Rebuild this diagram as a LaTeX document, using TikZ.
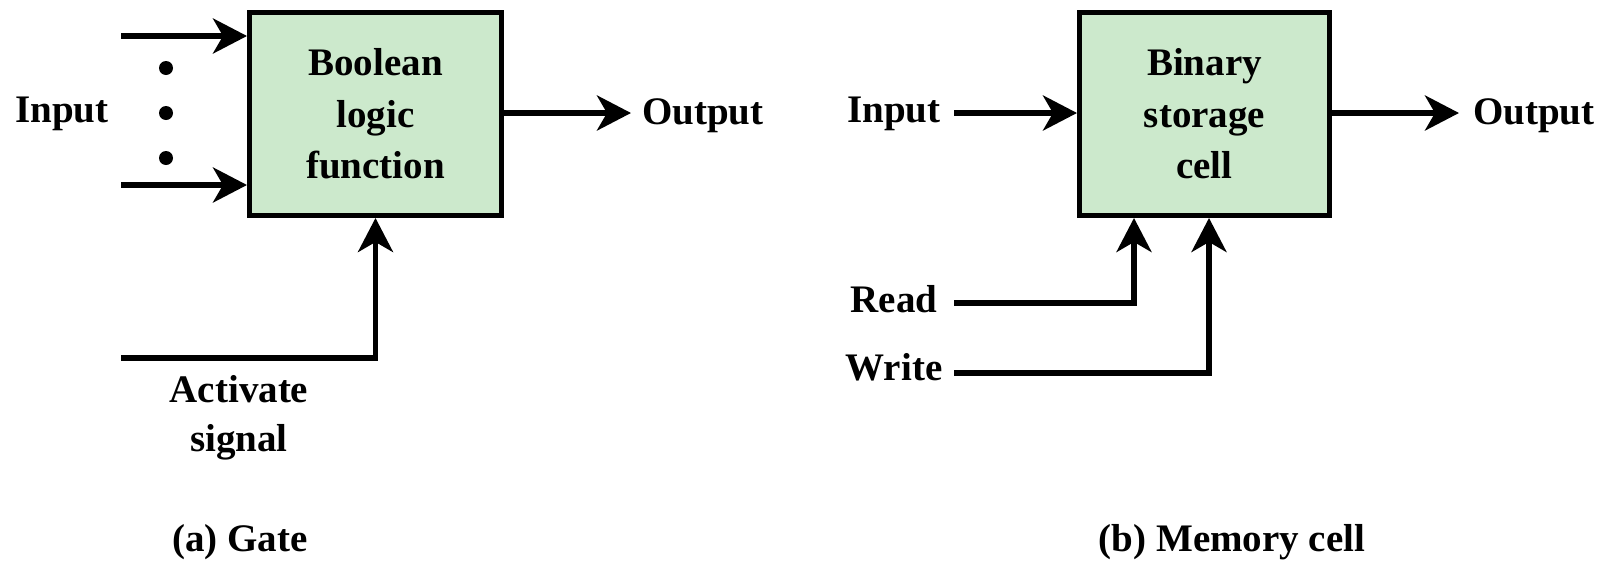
\documentclass[tikz,border=0pt]{standalone}
\usepackage{fontspec}
\setmainfont{Liberation Serif}
\usetikzlibrary{arrows.meta}
\definecolor{boxgreen}{RGB}{204,233,204}
\begin{document}
\begin{tikzpicture}[x=1pt,y=-1pt,
  box/.style={draw=black, line width=5pt, fill=boxgreen, inner sep=0pt, align=center,
    font=\fontsize{39}{51.5}\selectfont\bfseries},
  lbl/.style={inner sep=0pt, font=\fontsize{39}{50}\selectfont\bfseries},
  arr/.style={line width=5.5pt, -{Stealth[length=34pt,width=35pt,inset=10pt]}},
  dotc/.style={circle, fill=black, inner sep=0pt, minimum size=14pt}
]
\useasboundingbox (0,0) rectangle (1612,563);
% ---- (a) Gate ----
\node[box, minimum width=252pt, minimum height=203pt] (g) at (375.5,114)
  {Boolean\\logic\\function};
\coordinate (i1) at (121,36);
\coordinate (i2) at (121,185);
\draw[arr] (i1) -- (i1 -| g.west);
\draw[arr] (i2) -- (i2 -| g.west);
\node[dotc] (d1) at (166,68) {};
\node[dotc] (d2) at (166,113) {};
\node[dotc] (d3) at (166,158) {};
\node[lbl, anchor=base] (inA) at (62,122) {Input};
\coordinate (oA) at (631,113);
\draw[arr] (g.east |- oA) -- (oA);
\node[lbl, anchor=base west] (outA) at (642,124) {Output};
\coordinate (act) at (121,358);
\draw[arr] (act) -| (g.south);
\node[lbl, anchor=base] (actl) at (239,402) {Activate};
\node[lbl, anchor=base] (sigl) at (239,451) {signal};
\node[lbl, anchor=base] (capA) at (240,551) {(a) Gate};
% ---- (b) Memory cell ----
\node[box, minimum width=250pt, minimum height=203pt] (m) at (1204.5,114)
  {Binary\\storage\\cell};
\node[lbl, anchor=base] (inB) at (894,122) {Input};
\coordinate (iB) at (954,113);
\draw[arr] (iB) -- (iB -| m.west);
\coordinate (oB) at (1459,113);
\draw[arr] (m.east |- oB) -- (oB);
\node[lbl, anchor=base west] (outB) at (1473,124) {Output};
\node[lbl, anchor=base] (rdl) at (894,312) {Read};
\node[lbl, anchor=base] (wrl) at (894,380) {Write};
\coordinate (rd) at (954,303);
\coordinate (wr) at (954,373);
\coordinate (rdx) at (1134,0);
\coordinate (wrx) at (1209,0);
\draw[arr] (rd) -| (m.south -| rdx);
\draw[arr] (wr) -| (m.south -| wrx);
\node[lbl, anchor=base] (capB) at (1232,551) {(b) Memory cell};
\end{tikzpicture}
\end{document}
